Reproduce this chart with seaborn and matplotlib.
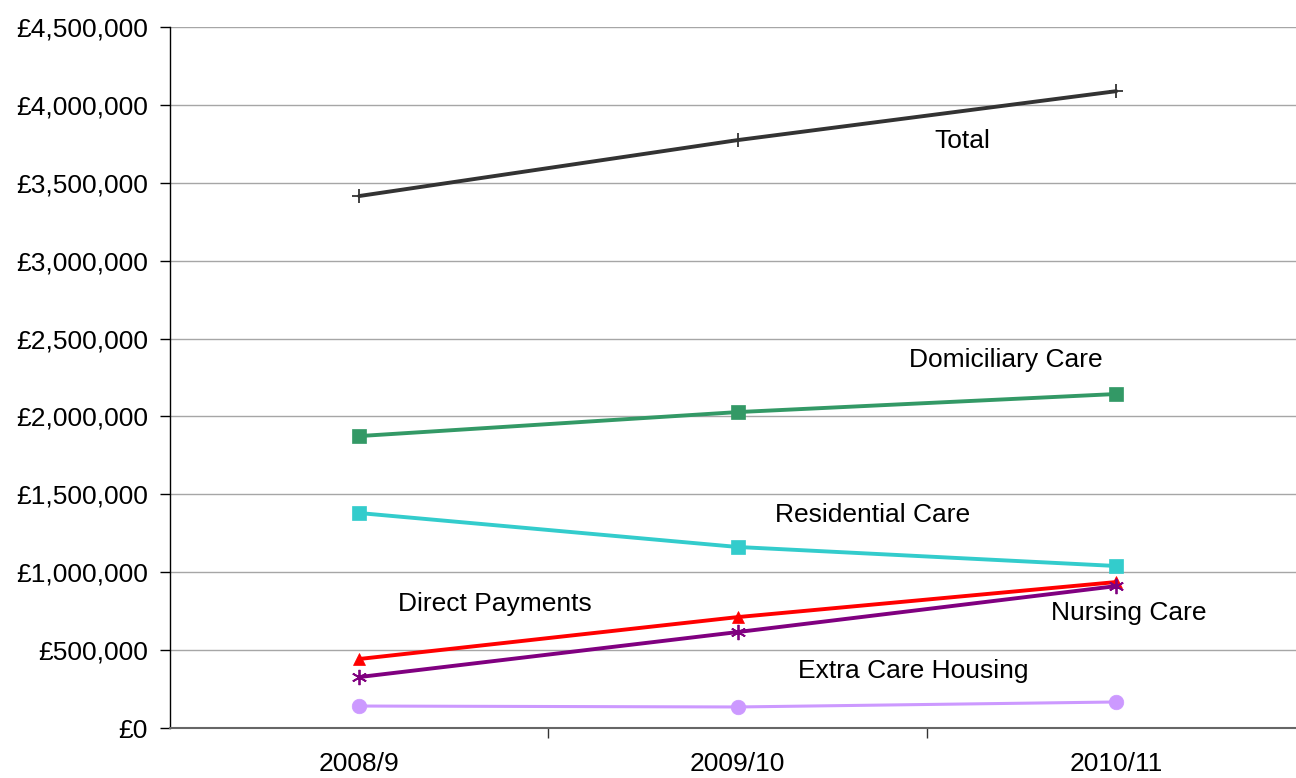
import matplotlib
matplotlib.use("Agg")
import matplotlib.pyplot as plt
import matplotlib.ticker as mticker
import seaborn as sns
import pandas as pd

years = ["2008/9", "2009/10", "2010/11"]
total = [3415000, 3774000, 4088000]
domiciliary = [1874000, 2028000, 2144000]
residential = [1380000, 1162000, 1040000]
direct_payments = [443000, 712000, 937000]
nursing = [327000, 616000, 911000]
extra_care = [141000, 135000, 167000]

series_names = ["Total", "Domiciliary Care", "Residential Care",
                "Direct Payments", "Nursing Care", "Extra Care Housing"]
series_values = [total, domiciliary, residential, direct_payments, nursing, extra_care]

label_x = [1.594, 1.707, 1.356, 0.359, 2.032, 1.464]
label_y = [3768000, 2362000, 1367000, 796000, 738000, 366000]

colors = {"Total": "#333333", "Domiciliary Care": "#339966",
          "Residential Care": "#33CCCC", "Direct Payments": "#FF0000",
          "Nursing Care": "#800080", "Extra Care Housing": "#CC99FF"}
markers = {"Total": "+", "Domiciliary Care": "s", "Residential Care": "s",
           "Direct Payments": "^", "Nursing Care": (6, 2, 0),
           "Extra Care Housing": "o"}
msizes = {"Total": 10, "Domiciliary Care": 10, "Residential Care": 10,
          "Direct Payments": 8.5, "Nursing Care": 11, "Extra Care Housing": 10.5}

rows = []
for name, vals in zip(series_names, series_values):
    for i, v in enumerate(vals):
        rows.append({"x": i, "year": years[i], "series": name, "value": v})
df = pd.DataFrame(rows)

sns.set_theme(style="white")
plt.rcParams["font.family"] = ["Liberation Sans", "DejaVu Sans"]

FS = 19

fig = plt.figure(figsize=(12.96, 7.78), dpi=100)
ax = fig.add_axes([170 / 1296, 1 - 728 / 778, 1 - 170 / 1296, (728 - 27) / 778])

for name in series_names:
    sub = df[df["series"] == name]
    sns.lineplot(data=sub, x="x", y="value", ax=ax, color=colors[name],
                 marker=markers[name], markersize=msizes[name],
                 markeredgecolor=colors[name],
                 markeredgewidth=1.3 if name in ("Total", "Nursing Care") else 0.5,
                 linewidth=2.2 if name == "Extra Care Housing" else 2.8, legend=False)

for name, lx, ly in zip(series_names, label_x, label_y):
    ax.text(lx, ly, name, ha="center", va="center", fontsize=FS, color="black")

ax.set_xlim(-0.5, 2.475)
ax.set_ylim(0, 4500000)
ax.yaxis.set_major_locator(mticker.MultipleLocator(500000))
ax.yaxis.set_major_formatter(mticker.FuncFormatter(lambda v, p: "£{:,.0f}".format(v)))
ax.grid(axis="y", color="#a6a6a6", linewidth=1)
ax.set_axisbelow(True)

ax.set_xticks([0, 1, 2])
ax.set_xticklabels(years)
ax.set_xticks([0.5, 1.5], minor=True)
ax.tick_params(axis="x", which="major", length=0, labelsize=FS, pad=17, labelcolor="black")
ax.tick_params(axis="x", which="minor", length=7, width=1, color="#333333", direction="out")
ax.tick_params(axis="y", which="major", length=7, width=1, color="black", direction="out",
               labelsize=FS, pad=9, labelcolor="black")
ax.tick_params(left=True, bottom=True, which="both")
ax.set_xlabel("")
ax.set_ylabel("")

for s in ["top", "right"]:
    ax.spines[s].set_visible(False)
ax.spines["left"].set_color("black")
ax.spines["left"].set_linewidth(1)
ax.spines["bottom"].set_color("#666666")
ax.spines["bottom"].set_linewidth(1.5)

fig.savefig("out.png", dpi=100)
